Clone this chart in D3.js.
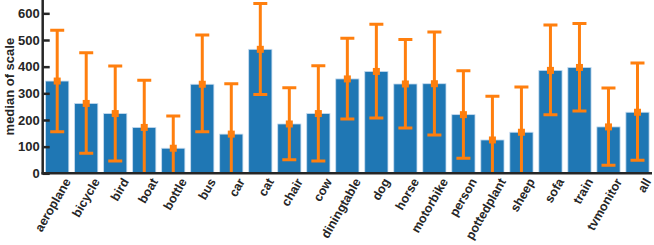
<!DOCTYPE html>
<html><head><meta charset="utf-8">
<script src="https://cdn.jsdelivr.net/npm/d3@7"></script>
<style>body{margin:0;background:#fff}svg{display:block}text{font-family:"Liberation Sans",Arial,sans-serif;}</style>
</head><body><svg id="c" width="654" height="245"></svg>
<script>
const categories = ["aeroplane","bicycle","bird","boat","bottle","bus","car","cat","chair","cow","diningtable","dog","horse","motorbike","person","pottedplant","sheep","sofa","train","tvmonitor","all"];
const medians = [346,262,224,172,94,334,147,465,185,224,354,382,335,336,220,125,154,386,397,174,229];
const upper = [537,452,402,349,215,519,336,637,321,403,507,559,502,530,385,289,324,556,562,320,414];
const lower = [156,75,46,-5,-27,156,-42,296,51,46,204,207,170,144,56,-39,-16,220,234,30,49];
const yTicks = [0,100,200,300,400,500,600];

const svg = d3.select("#c");
const L = 42.7, R = 652, T = 0, B = 173.3;
const x = d3.scaleBand().domain(categories).range([L, R]).paddingInner(0.2).paddingOuter(0.1);
const y = d3.scaleLinear().domain([0, 650]).range([B, T]);

svg.append("defs").append("clipPath").attr("id","clip").append("rect")
  .attr("x", L).attr("y", T).attr("width", R - L).attr("height", B - T);

const g = svg.append("g").attr("clip-path","url(#clip)");
g.selectAll("rect.bar").data(categories).join("rect").attr("class","bar")
  .attr("x", d => x(d)).attr("width", x.bandwidth())
  .attr("y", (d,i) => y(medians[i])).attr("height", (d,i) => B - y(medians[i]))
  .attr("fill","#1f77b4").attr("stroke","#c6dbef").attr("stroke-width",0.8);

const eb = g.selectAll("g.eb").data(categories).join("g").attr("class","eb")
  .attr("transform", d => `translate(${x(d) + x.bandwidth()/2},0)`);
eb.append("line").attr("y1",(d,i)=>y(lower[i])).attr("y2",(d,i)=>y(upper[i]))
  .attr("stroke","#ff7f0e").attr("stroke-width",3);
eb.append("line").attr("x1",-7).attr("x2",7).attr("y1",(d,i)=>y(upper[i])).attr("y2",(d,i)=>y(upper[i]))
  .attr("stroke","#ff7f0e").attr("stroke-width",3);
eb.filter((d,i)=>lower[i] > 0).append("line").attr("x1",-7).attr("x2",7)
  .attr("y1",d=>y(lower[categories.indexOf(d)])).attr("y2",d=>y(lower[categories.indexOf(d)]))
  .attr("stroke","#ff7f0e").attr("stroke-width",3);
eb.append("rect").attr("x",-3.5).attr("width",7).attr("height",7)
  .attr("y",(d,i)=>y(medians[i]) - 3.5).attr("fill","#ff7f0e");

// y axis
const ya = svg.append("g").attr("transform",`translate(${L},0)`)
  .call(d3.axisLeft(y).tickValues(yTicks).tickSize(-7).tickPadding(3));
ya.select(".domain").remove();
ya.selectAll(".tick line").attr("stroke","#262626").attr("stroke-width",2.5);
ya.selectAll("text").attr("font-size",13).attr("font-weight","bold").attr("fill","#262626");
svg.append("line").attr("x1",L).attr("x2",L).attr("y1",0).attr("y2",B+1.2)
  .attr("stroke","#262626").attr("stroke-width",2.5);

// x axis
const xa = svg.append("g").attr("transform",`translate(0,${B})`)
  .call(d3.axisBottom(x).tickSize(0).tickPadding(6));
xa.select(".domain").remove();
xa.selectAll("text").attr("font-size",12.5).attr("font-weight","bold").attr("fill","#262626")
  .attr("text-anchor","end").attr("dy","0.35em")
  .attr("transform","translate(5,3) rotate(-60)");
svg.append("line").attr("x1",L-1.2).attr("x2",R).attr("y1",B).attr("y2",B)
  .attr("stroke","#262626").attr("stroke-width",2.5);

svg.append("text").attr("transform",`translate(14,${(B)/2}) rotate(-90)`)
  .attr("text-anchor","middle").attr("font-size",13).attr("font-weight","bold").attr("fill","#262626")
  .text("median of scale");
</script></body></html>
